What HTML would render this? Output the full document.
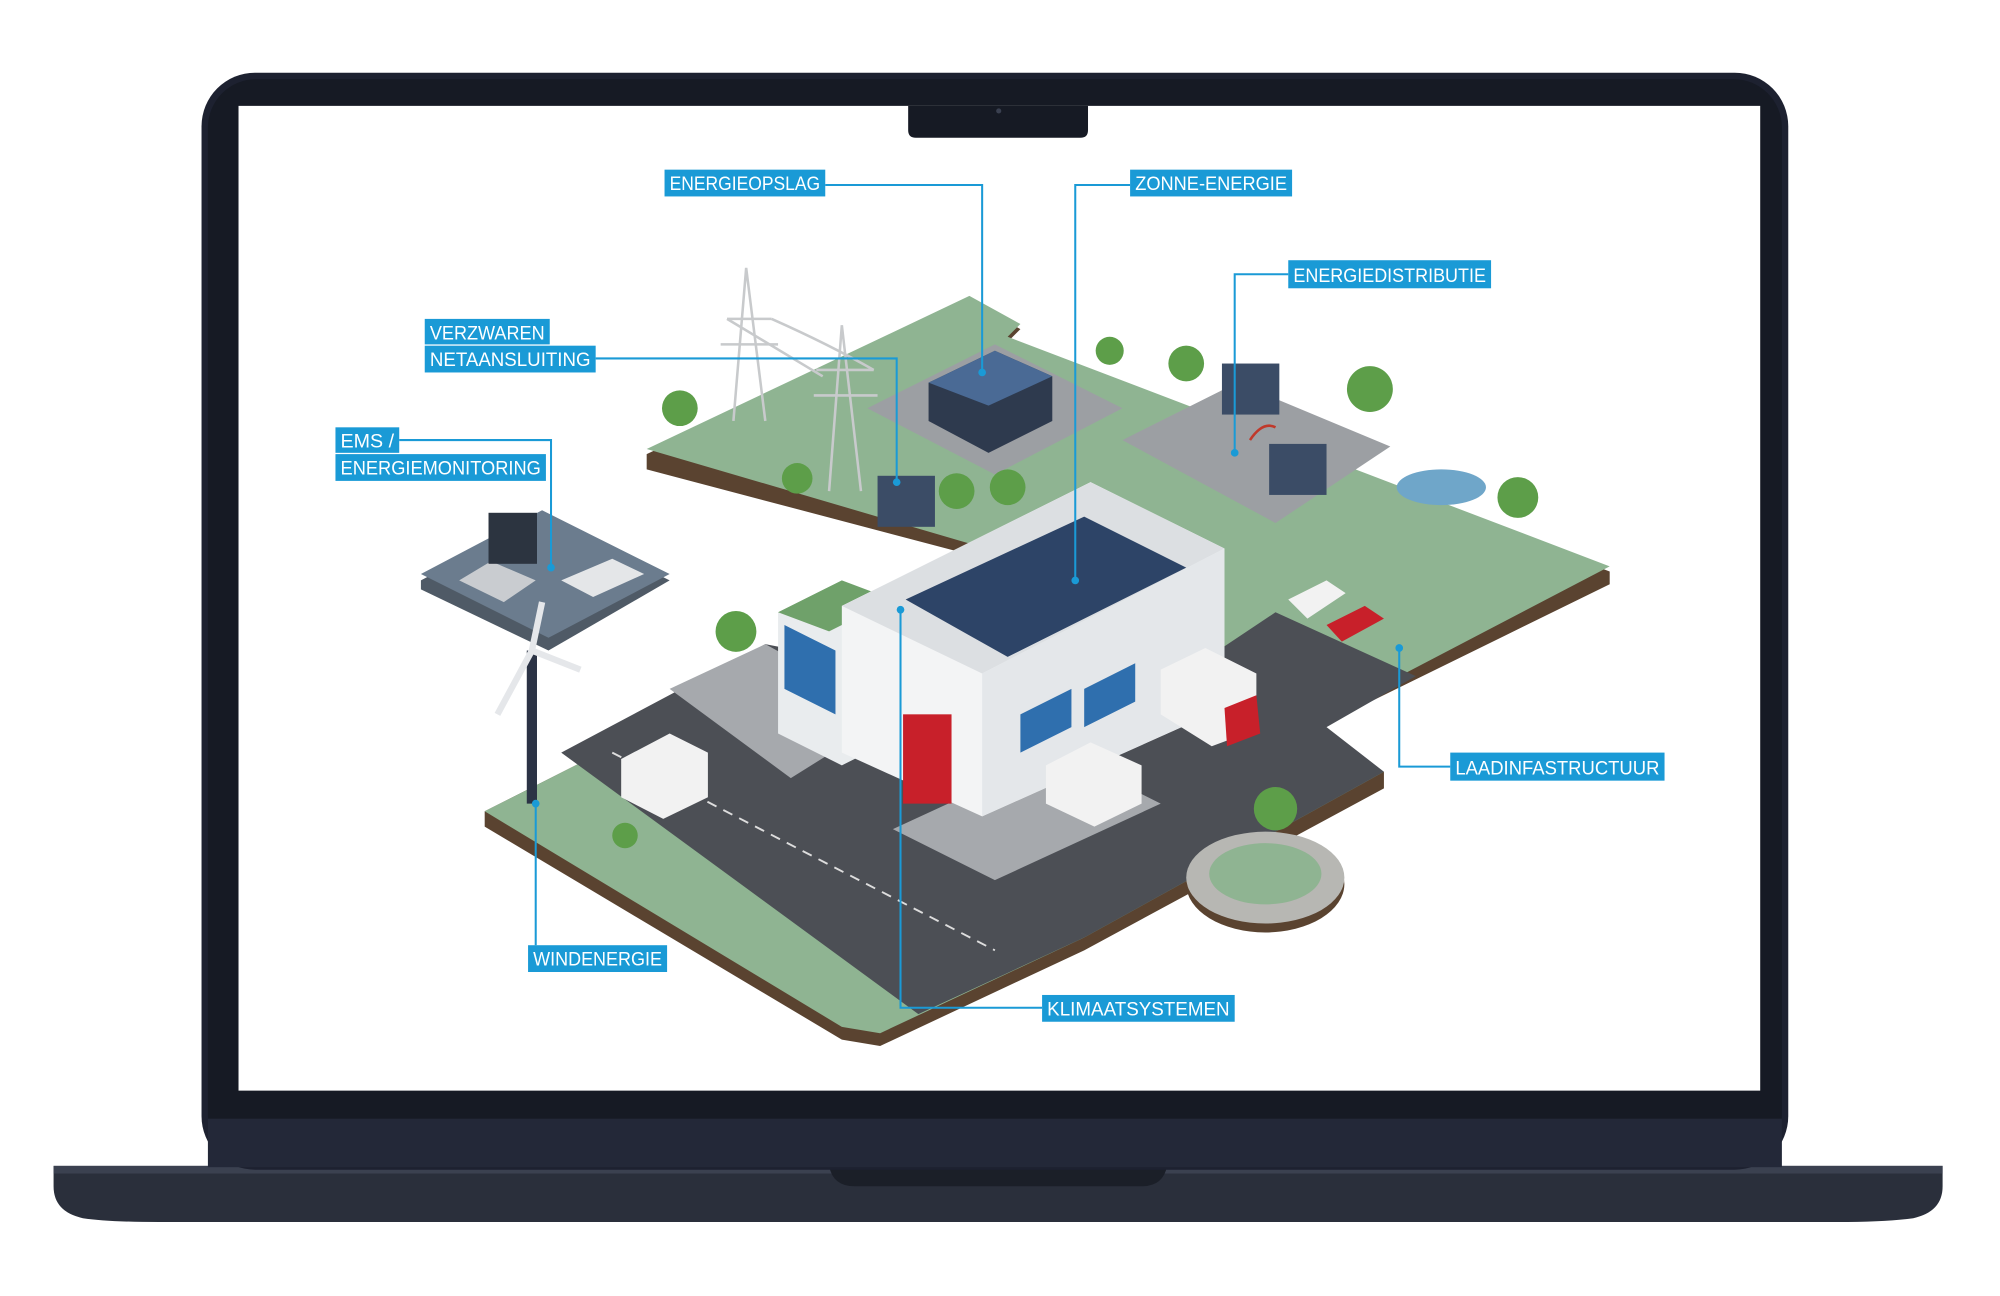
<!DOCTYPE html>
<html><head><meta charset="utf-8"><style>
html,body{margin:0;padding:0;background:#fff;}
svg{display:block;}
.lb{font-family:"Liberation Sans",sans-serif;font-size:15px;fill:#fff;}
</style></head><body>
<svg width="2000" height="1296" viewBox="0 0 1568 1016" preserveAspectRatio="none">
<rect width="1568" height="1016" fill="#fff"/>
<!-- laptop base -->
<path d="M42 914 H1523 V930 Q1523 950 1500 955 Q1480 958 1440 958 H125 Q85 958 65 955 Q42 950 42 930 Z" fill="#2a2f3b"/>
<rect x="42" y="914" width="1481" height="6" fill="#3b4150"/>
<path d="M650 914 H915 Q912 930 895 930 H670 Q653 930 650 914 Z" fill="#1b1f28"/>
<!-- lid -->
<rect x="158" y="57" width="1244" height="860" rx="42" fill="#1d2130"/>
<rect x="163" y="62" width="1234" height="850" rx="38" fill="#161a24"/>
<rect x="187" y="83" width="1193" height="772" fill="#fff"/>
<rect x="163" y="877" width="1234" height="38" fill="#232838"/>
<path d="M712 83 H853 V102 Q853 108 847 108 H718 Q712 108 712 102 Z" fill="#161a24"/>
<circle cx="783" cy="87" r="2" fill="#3a4050"/>

<!-- ground: back plots -->
<polygon points="507,356 760,236 800,258 790,268 1262,448 1262,458 1040,567 780,440 507,368" fill="#5a4330"/>
<polygon points="507,352 760,232 800,254 790,264 1262,444 1040,560 780,432" fill="#8fb492"/>
<polygon points="680,320 780,270 880,320 780,372" fill="#9c9fa3"/>
<polygon points="880,345 970,300 1090,350 1000,410" fill="#9c9fa3"/>
<!-- lower area -->
<polygon points="380,636 560,545 760,620 1085,605 1085,618 850,745 690,820 660,815 380,648" fill="#5a4330"/>
<polygon points="380,636 560,545 760,615 1085,605 850,735 690,810 660,805" fill="#8fb492"/>
<polygon points="440,590 600,505 880,560 1000,480 1110,530 1040,570 1085,605 850,735 720,795" fill="#4c4f55"/>
<polygon points="525,540 600,505 700,560 620,610" fill="#a6a9ad"/>
<polygon points="700,650 830,590 910,630 780,690" fill="#a6a9ad"/>
<line x1="480" y1="590" x2="780" y2="745" stroke="#ddd" stroke-width="1.5" stroke-dasharray="8,6"/>
<!-- roundabout -->
<ellipse cx="992" cy="693" rx="62" ry="38" fill="#5a4330"/>
<ellipse cx="992" cy="688" rx="62" ry="36" fill="#b7b7b3"/>
<ellipse cx="992" cy="685" rx="44" ry="24" fill="#8fb492"/>
<!-- pond -->
<ellipse cx="1130" cy="382" rx="35" ry="14" fill="#6fa6c9"/>
<!-- EMS island -->
<polygon points="330,455 425,405 525,455 430,510 330,462" fill="#4f5a66"/>
<polygon points="330,450 425,400 525,450 430,500" fill="#6b7c8e"/>
<polygon points="360,455 385,440 420,455 395,472" fill="#c9ccd0"/>
<rect x="383" y="402" width="38" height="40" fill="#2c3440"/>
<polygon points="440,455 480,438 505,450 465,468" fill="#e4e6e8"/>
<!-- building -->
<polygon points="610,480 660,455 700,470 700,580 660,600 610,575" fill="#e9ecee"/>
<polygon points="610,480 660,455 700,470 650,495" fill="#6fa16a"/>
<polygon points="660,475 855,378 960,430 960,555 770,640 660,590" fill="#f3f4f5"/>
<polygon points="660,475 855,378 960,430 770,528" fill="#dcdfe2"/>
<polygon points="710,470 850,405 930,445 790,515" fill="#2d4467"/>
<polygon points="770,528 960,430 960,555 770,640" fill="#e4e7ea"/>
<rect x="708" y="560" width="38" height="70" fill="#c8202a"/>
<polygon points="615,490 655,510 655,560 615,540" fill="#2f6fae"/>
<polygon points="800,560 840,540 840,570 800,590" fill="#2f6fae"/>
<polygon points="850,540 890,520 890,550 850,570" fill="#2f6fae"/>
<!-- storage cabinets -->
<polygon points="728,300 780,275 825,295 825,330 775,355 728,330" fill="#2e3a4e"/>
<polygon points="728,300 780,275 825,295 775,318" fill="#4a6a95"/>
<!-- transformers -->
<rect x="688" y="373" width="45" height="40" fill="#3b4c66"/>
<rect x="958" y="285" width="45" height="40" fill="#3b4c66"/>
<rect x="995" y="348" width="45" height="40" fill="#3b4c66"/>
<path d="M980 345 Q990 330 1000 335" stroke="#c0392b" stroke-width="2" fill="none"/>
<!-- pylons -->
<g stroke="#c8cacc" stroke-width="2" fill="none">
<path d="M575 330 L585 210 L600 330 M570 250 H605 M565 270 H610"/>
<path d="M650 385 L660 255 L675 385 M640 290 H685 M638 310 H688"/>
<path d="M570 250 Q620 280 645 295 M605 250 Q650 270 685 290"/>
</g>
<!-- trees -->
<g fill="#5d9e49">
<circle cx="533" cy="320" r="14"/><circle cx="625" cy="375" r="12"/><circle cx="750" cy="385" r="14"/>
<circle cx="790" cy="382" r="14"/><circle cx="870" cy="275" r="11"/><circle cx="930" cy="285" r="14"/>
<circle cx="1074" cy="305" r="18"/><circle cx="1190" cy="390" r="16"/><circle cx="577" cy="495" r="16"/>
<circle cx="1000" cy="634" r="17"/><circle cx="490" cy="655" r="10"/>
</g>
<!-- wind turbine -->
<rect x="413" y="510" width="8" height="120" fill="#2b3345"/>
<path d="M417 510 L425 472 M417 510 L390 560 M417 510 L455 525" stroke="#e5e7ea" stroke-width="5"/>
<!-- cars/trucks -->
<polygon points="487,595 525,575 555,590 555,625 520,642 487,625" fill="#f2f2f2"/>
<polygon points="820,600 855,582 895,600 895,630 858,648 820,630" fill="#f2f2f2"/>
<polygon points="910,525 945,508 985,528 985,572 950,585 910,560" fill="#f2f2f2"/>
<polygon points="960,555 985,545 988,575 962,585" fill="#c8202a"/>
<polygon points="1010,470 1040,455 1055,465 1025,485" fill="#f2f2f2"/>
<polygon points="1040,490 1070,475 1085,485 1052,503" fill="#c8202a"/>

<!-- leader lines -->
<g stroke="#1a9ad6" stroke-width="1.6" fill="none">
<polyline points="647,145 770,145 770,292"/>
<polyline points="886,145 843,145 843,455"/>
<polyline points="1010,215 968,215 968,355"/>
<polyline points="467,281 703,281 703,378"/>
<polyline points="313,345 432,345 432,445"/>
<polyline points="420,741 420,630"/>
<polyline points="817,790 706,790 706,478"/>
<polyline points="1137,601 1097,601 1097,508"/>
</g>
<g fill="#1a9ad6">
<circle cx="770" cy="292" r="3"/><circle cx="843" cy="455" r="3"/><circle cx="968" cy="355" r="3"/>
<circle cx="703" cy="378" r="3"/><circle cx="432" cy="445" r="3"/><circle cx="420" cy="630" r="3"/>
<circle cx="706" cy="478" r="3"/><circle cx="1097" cy="508" r="3"/>
</g>
<!-- labels -->
<g fill="#1a9ad6">
<rect x="521" y="133" width="126" height="21"/>
<rect x="886" y="133" width="127" height="21"/>
<rect x="1010" y="204" width="159" height="22"/>
<rect x="333" y="250" width="98" height="20"/>
<rect x="333" y="271" width="134" height="21"/>
<rect x="263" y="335" width="50" height="20"/>
<rect x="263" y="356" width="165" height="21"/>
<rect x="414" y="741" width="109" height="21"/>
<rect x="817" y="780" width="151" height="21"/>
<rect x="1137" y="590" width="168" height="22"/>
</g>
<g class="lb">
<text x="525" y="149" textLength="118" lengthAdjust="spacingAndGlyphs">ENERGIEOPSLAG</text>
<text x="890" y="149" textLength="119" lengthAdjust="spacingAndGlyphs">ZONNE-ENERGIE</text>
<text x="1014" y="221" textLength="151" lengthAdjust="spacingAndGlyphs">ENERGIEDISTRIBUTIE</text>
<text x="337" y="266" textLength="90" lengthAdjust="spacingAndGlyphs">VERZWAREN</text>
<text x="337" y="287" textLength="126" lengthAdjust="spacingAndGlyphs">NETAANSLUITING</text>
<text x="267" y="351" textLength="42" lengthAdjust="spacingAndGlyphs">EMS /</text>
<text x="267" y="372" textLength="157" lengthAdjust="spacingAndGlyphs">ENERGIEMONITORING</text>
<text x="418" y="757" textLength="101" lengthAdjust="spacingAndGlyphs">WINDENERGIE</text>
<text x="821" y="796" textLength="143" lengthAdjust="spacingAndGlyphs">KLIMAATSYSTEMEN</text>
<text x="1141" y="607" textLength="160" lengthAdjust="spacingAndGlyphs">LAADINFASTRUCTUUR</text>
</g>
</svg>
</body></html>
